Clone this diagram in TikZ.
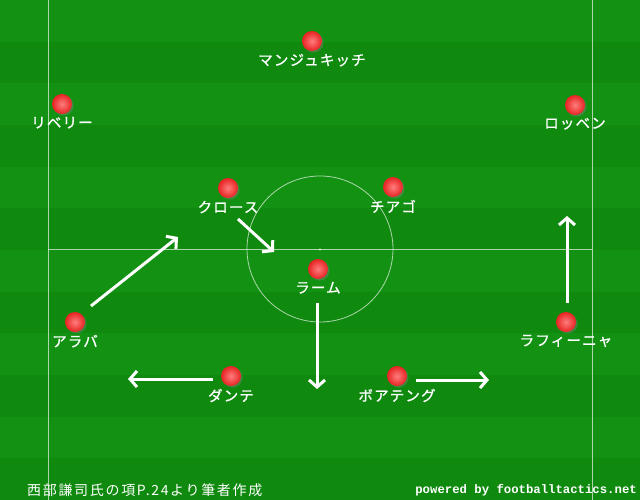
\documentclass[tikz,border=0pt]{standalone}
\usepackage{fontspec}
\setmainfont{Noto Sans CJK JP}
\newfontfamily\labelfont[LetterSpace=8,FakeBold=1]{Noto Sans CJK JP}
\newfontfamily\notefont[LetterSpace=12]{Noto Sans CJK JP}
\newfontfamily\creditfont{Liberation Mono}
\usetikzlibrary{arrows.meta, positioning, shadows}

\definecolor{grassdark}{RGB}{15,138,15}
\definecolor{grasslight}{RGB}{19,145,19}
\definecolor{ballin}{RGB}{255,125,125}
\definecolor{ballout}{RGB}{232,35,35}

\begin{document}
\begin{tikzpicture}[x=1pt,y=-1pt,node distance=2.5pt]
    \tikzstyle{player}=[shape=circle,inner sep=0pt,minimum size=20pt,shading=radial,inner color=ballin,outer color=ballout,drop shadow={shadow xshift=1.5pt,shadow yshift=-1.5pt,opacity=0.45}]
    \tikzstyle{playername}=[text=white,inner sep=0pt,font=\labelfont\fontsize{14.5}{16}\selectfont]
    \tikzstyle{move}=[draw=white,line width=3pt,-{Straight Barb[length=7pt,width=16pt,line width=3pt]}]
    \tikzstyle{pitchline}=[draw=white,opacity=0.65,line width=0.8pt]

    % pitch
    \useasboundingbox (0,0) rectangle (640,500);
    \fill[grassdark] (0,0) rectangle (640,500);
    \foreach \i in {0,2,...,10}
        \fill[grasslight] (0,\i*41.667) rectangle (640,\i*41.667+41.667);
    \path[pitchline] (48,0) -- (48,500);
    \path[pitchline] (592,0) -- (592,500);
    \path[pitchline] (48,249) -- (592,249);
    \path[pitchline] (320,249) circle (73);
    \fill[white,opacity=0.7] (320,249.5) circle (1.2);

    % players
    \node[player] (P1) at (312,41) {};
    \node[playername, below=of P1] (N1) {マンジュキッチ};
    \node[player] (P2) at (62,104) {};
    \node[playername, below=of P2] (N2) {リベリー};
    \node[player] (P3) at (575,105) {};
    \node[playername, below=of P3] (N3) {ロッベン};
    \node[player] (P4) at (228,188) {};
    \node[playername, below=of P4] (N4) {クロース};
    \node[player] (P5) at (393,187) {};
    \node[playername, below=of P5] (N5) {チアゴ};
    \node[player] (P6) at (318,269) {};
    \node[playername, below=of P6] (N6) {ラーム};
    \node[player] (P7) at (75,322) {};
    \node[playername, below=of P7] (N7) {アラバ};
    \node[player] (P8) at (566,322) {};
    \node[playername, below=of P8] (N8) {ラフィーニャ};
    \node[player] (P9) at (231,376) {};
    \node[playername, below=of P9] (N9) {ダンテ};
    \node[player] (P10) at (397,376) {};
    \node[playername, below=of P10] (N10) {ボアテング};

    % runs
    \coordinate (A0) at (91,306);  \coordinate (A1) at (178,237);
    \coordinate (B0) at (238,219); \coordinate (B1) at (274,252);
    \coordinate (C0) at (317,303); \coordinate (C1) at (317,389);
    \coordinate (D0) at (213,379); \coordinate (D1) at (128,379);
    \coordinate (E0) at (416,380); \coordinate (E1) at (489,380);
    \coordinate (F0) at (567,303); \coordinate (F1) at (567,216);

    \draw[move] (A0) -- (A1);
    \draw[move] (B0) -- (B1);
    \draw[move] (C0) -- (C1);
    \draw[move] (D0) -- (D1);
    \draw[move] (E0) -- (E1);
    \draw[move] (F0) -- (F1);

    % credits
    \node[text=white,inner sep=0pt,anchor=west,font=\notefont\fontsize{14}{15}\selectfont] (src) at (27,490) {西部謙司氏の項P.24より筆者作成};
    \node[text=white,inner sep=0pt,anchor=east,font=\creditfont\bfseries\fontsize{12.3}{14}\selectfont] (web) at (637,490) {powered by footballtactics.net};

  \end{tikzpicture}
\end{document}
